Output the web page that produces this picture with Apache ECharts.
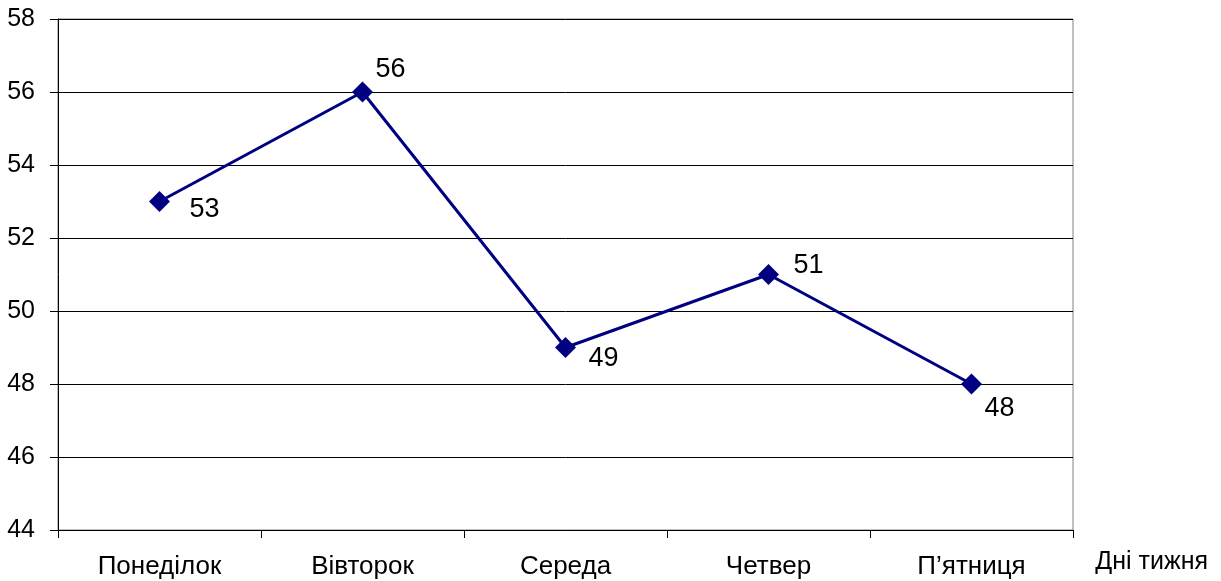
<!DOCTYPE html>
<html>
<head>
<meta charset="utf-8">
<script src="https://cdn.jsdelivr.net/npm/echarts@6/dist/echarts.min.js"></script>
<style>
  html, body { margin: 0; padding: 0; background: #fff; }
  #chart { width: 1221px; height: 581px; }
</style>
</head>
<body>
<div id="chart"></div>
<script>
// days of the week and values
var days = ['Понеділок', 'Вівторок', 'Середа', 'Четвер', 'П’ятниця'];
var values = [53, 56, 49, 51, 48];
// where each value label sits relative to its marker
var labelOffsets = [[45, 8], [28, -22], [38, 11], [40, -9], [28, 25]];

var myChart = echarts.init(document.getElementById('chart'));

var seriesData = values.map(function(v, i) {
  return {
    value: v,
    label: { offset: labelOffsets[i] }
  };
});

var option = {
  backgroundColor: '#fff',
  animation: false,
  textStyle: { fontFamily: 'Liberation Sans, Arial, sans-serif' },
  title: {
    text: 'Дні тижня',
    right: 8,
    top: 545,
    textStyle: { fontSize: 25, fontWeight: 'normal', color: '#000' }
  },
  grid: {
    left: 58,
    right: 148,
    top: 19,
    bottom: 51,
    show: true,
    borderColor: '#808080',
    borderWidth: 1
  },
  xAxis: {
    type: 'category',
    data: days,
    boundaryGap: true,
    axisLine: { lineStyle: { color: '#000', width: 1 } },
    axisTick: { show: true, length: 8, inside: false, lineStyle: { color: '#000' } },
    axisLabel: { color: '#000', fontSize: 26, margin: 24 },
    splitLine: { show: false }
  },
  yAxis: {
    type: 'value',
    min: 44,
    max: 58,
    interval: 2,
    axisLine: { show: true, lineStyle: { color: '#000', width: 1 } },
    axisTick: { show: true, length: 8, lineStyle: { color: '#000' } },
    axisLabel: { color: '#000', fontSize: 25, margin: 23 },
    splitLine: { show: true, lineStyle: { color: '#000', width: 1 } }
  },
  series: [{
    type: 'line',
    data: seriesData,
    symbol: 'diamond',
    symbolSize: 21,
    lineStyle: { color: '#000080', width: 3 },
    itemStyle: { color: '#000080' },
    label: {
      show: true,
      position: 'inside',
      color: '#000',
      fontSize: 27
    }
  }]
};

myChart.setOption(option);
</script>
</body>
</html>
